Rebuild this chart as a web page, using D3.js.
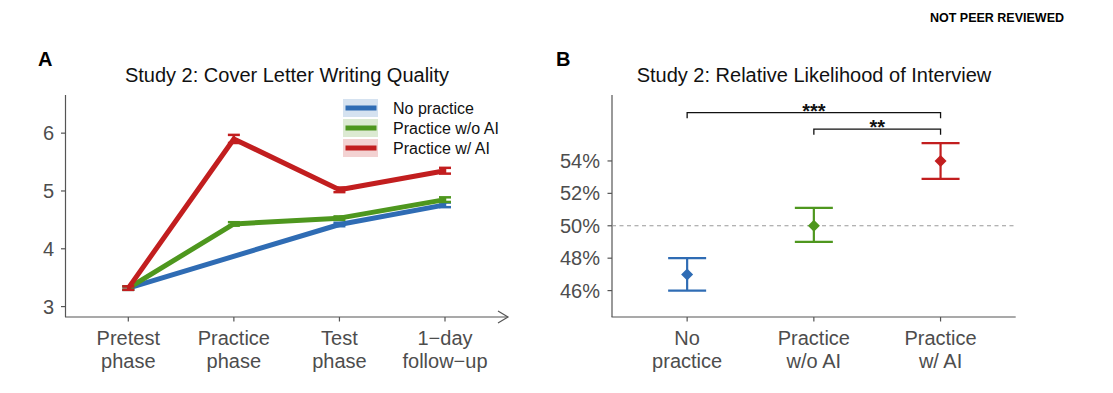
<!DOCTYPE html>
<html>
<head>
<meta charset="utf-8">
<script src="https://cdn.jsdelivr.net/npm/d3@7"></script>
<style>
  body { margin: 0; background: #fff; }
  text { font-family: Helvetica, "Liberation Sans", Arial, sans-serif; }
</style>
</head>
<body>
<svg id="chart" width="1113" height="393"></svg>
<script>
// panel A data
var phases = [["Pretest", "phase"], ["Practice", "phase"], ["Test", "phase"], ["1\u2212day", "follow\u2212up"]];
var groups = ["No practice", "Practice w/o AI", "Practice w/ AI"];
var colors = ["#2f6cb4", "#4e971e", "#c21e1f"];
var qualityMean = [
    [3.32, null, 4.42, 4.76],
    [3.32, 4.43, 4.53, 4.85],
    [3.32, 5.90, 5.02, 5.35]
];
var qualityErr = [
    [0.03, null, 0.03, 0.04],
    [0.03, 0.03, 0.03, 0.04],
    [0.03, 0.07, 0.04, 0.05]
];
var yTicksA = [3, 4, 5, 6];

// panel B data
var categoriesB = [["No", "practice"], ["Practice", "w/o AI"], ["Practice", "w/ AI"]];
var likelihood = [47.0, 50.0, 54.0];
var likeLow = [46.0, 49.0, 52.9];
var likeHigh = [48.0, 51.1, 55.1];
var yTicksB = [46, 48, 50, 52, 54];
var brackets = [{from: 0, to: 2, label: "***"}, {from: 1, to: 2, label: "**"}];

var svg = d3.select("#chart");
var axisCol = "#555", tickTextCol = "#4d4d4d";
var tickFont = "20px";

svg.append("text").attr("x", 1064).attr("y", 22).attr("text-anchor", "end")
    .style("font-size", "12.5px").style("font-weight", "bold").text("NOT PEER REVIEWED");

// ---------- panel A ----------
var xA = d3.scalePoint().domain(d3.range(4)).range([128.3, 445]);
var yA = d3.scaleLinear().domain([2.82, 6.66]).range([317, 95]);

svg.append("text").attr("x", 38).attr("y", 66).style("font-size", "20px").style("font-weight", "bold").text("A");
svg.append("text").attr("x", 287).attr("y", 82).attr("text-anchor", "middle")
    .style("font-size", "20px").attr("fill", "#111").text("Study 2: Cover Letter Writing Quality");

var gA = svg.append("g");
// axes
gA.append("line").attr("x1", 65.5).attr("x2", 65.5).attr("y1", 95).attr("y2", 317).attr("stroke", axisCol).attr("stroke-width", 1.2);
gA.append("line").attr("x1", 65).attr("x2", 508).attr("y1", 317).attr("y2", 317).attr("stroke", axisCol).attr("stroke-width", 1.2);
gA.append("path").attr("d", "M498,311 L508,317 L498,323").attr("fill", "none").attr("stroke", axisCol).attr("stroke-width", 1.2);

yTicksA.forEach(function(t){
    gA.append("line").attr("x1", 61).attr("x2", 65.5).attr("y1", yA(t)).attr("y2", yA(t)).attr("stroke", axisCol).attr("stroke-width", 1.2);
    gA.append("text").attr("x", 54).attr("y", yA(t) + 7).attr("text-anchor", "end")
        .style("font-size", tickFont).attr("fill", tickTextCol).text(t);
});
phases.forEach(function(p, i){
    gA.append("line").attr("x1", xA(i)).attr("x2", xA(i)).attr("y1", 317).attr("y2", 321.5).attr("stroke", axisCol).attr("stroke-width", 1.2);
    gA.append("text").attr("x", xA(i)).attr("y", 345).attr("text-anchor", "middle")
        .style("font-size", tickFont).attr("fill", tickTextCol).text(p[0]);
    gA.append("text").attr("x", xA(i)).attr("y", 368).attr("text-anchor", "middle")
        .style("font-size", tickFont).attr("fill", tickTextCol).text(p[1]);
});

var line = d3.line().x(function(d){ return xA(d.i); }).y(function(d){ return yA(d.v); });
groups.forEach(function(g, k){
    var pts = [];
    qualityMean[k].forEach(function(v, i){ if (v !== null) pts.push({i: i, v: v, e: qualityErr[k][i]}); });
    gA.append("path").datum(pts).attr("d", line).attr("fill", "none")
        .attr("stroke", colors[k]).attr("stroke-width", 5).attr("stroke-linejoin", "round");
    pts.forEach(function(d){
        gA.append("line").attr("x1", xA(d.i)).attr("x2", xA(d.i)).attr("y1", yA(d.v - d.e)).attr("y2", yA(d.v + d.e))
            .attr("stroke", colors[k]).attr("stroke-width", 2.5);
        [d.v - d.e, d.v + d.e].forEach(function(y){
            gA.append("line").attr("x1", xA(d.i) - 6).attr("x2", xA(d.i) + 6).attr("y1", yA(y)).attr("y2", yA(y))
                .attr("stroke", colors[k]).attr("stroke-width", 2.5);
        });
    });
});

// legend
groups.forEach(function(g, k){
    var cy = 108 + k * 20;
    gA.append("rect").attr("x", 343).attr("y", cy - 9).attr("width", 35).attr("height", 18)
        .attr("fill", colors[k]).attr("fill-opacity", 0.2);
    gA.append("line").attr("x1", 345.5).attr("x2", 376.5).attr("y1", cy).attr("y2", cy)
        .attr("stroke", colors[k]).attr("stroke-width", 5);
    gA.append("text").attr("x", 393).attr("y", cy + 6).style("font-size", "16px").attr("fill", "#111").text(g);
});

// ---------- panel B ----------
var xB = d3.scalePoint().domain(d3.range(3)).range([612, 1015.7]).padding(0.593);
var yB = d3.scaleLinear().domain([44.37, 58.07]).range([317, 95]);

svg.append("text").attr("x", 556).attr("y", 66).style("font-size", "20px").style("font-weight", "bold").text("B");
svg.append("text").attr("x", 814).attr("y", 82).attr("text-anchor", "middle")
    .style("font-size", "20px").attr("fill", "#111").text("Study 2: Relative Likelihood of Interview");

var gB = svg.append("g");
gB.append("line").attr("x1", 612).attr("x2", 612).attr("y1", 95).attr("y2", 317).attr("stroke", axisCol).attr("stroke-width", 1.2);
gB.append("line").attr("x1", 611.5).attr("x2", 1015.7).attr("y1", 317).attr("y2", 317).attr("stroke", axisCol).attr("stroke-width", 1.2);

yTicksB.forEach(function(t){
    gB.append("line").attr("x1", 607.5).attr("x2", 612).attr("y1", yB(t)).attr("y2", yB(t)).attr("stroke", axisCol).attr("stroke-width", 1.2);
    gB.append("text").attr("x", 600).attr("y", yB(t) + 7).attr("text-anchor", "end")
        .style("font-size", tickFont).attr("fill", tickTextCol).text(t + "%");
});
categoriesB.forEach(function(c, i){
    gB.append("line").attr("x1", xB(i)).attr("x2", xB(i)).attr("y1", 317).attr("y2", 321.5).attr("stroke", axisCol).attr("stroke-width", 1.2);
    gB.append("text").attr("x", xB(i)).attr("y", 345).attr("text-anchor", "middle")
        .style("font-size", tickFont).attr("fill", tickTextCol).text(c[0]);
    gB.append("text").attr("x", xB(i)).attr("y", 368).attr("text-anchor", "middle")
        .style("font-size", tickFont).attr("fill", tickTextCol).text(c[1]);
});

// reference line at 50%
gB.append("line").attr("x1", 612).attr("x2", 1015.7).attr("y1", yB(50)).attr("y2", yB(50))
    .attr("stroke", "#999").attr("stroke-width", 1.2).attr("stroke-dasharray", "4,3.5");

likelihood.forEach(function(v, i){
    var x = xB(i), c = colors[i];
    gB.append("line").attr("x1", x).attr("x2", x).attr("y1", yB(likeLow[i])).attr("y2", yB(likeHigh[i]))
        .attr("stroke", c).attr("stroke-width", 2.2);
    [likeLow[i], likeHigh[i]].forEach(function(y){
        gB.append("line").attr("x1", x - 19).attr("x2", x + 19).attr("y1", yB(y)).attr("y2", yB(y))
            .attr("stroke", c).attr("stroke-width", 2.2);
    });
    // square turned 45 degrees, like ggplot's diamond
    gB.append("path").attr("d", d3.symbol().type(d3.symbolSquare).size(72)())
        .attr("transform", "translate(" + x + "," + yB(v) + ") rotate(45)").attr("fill", c);
});

// significance brackets
brackets.forEach(function(b, j){
    var by = 112.7 + j * 16.5;
    var x1 = xB(b.from), x2 = xB(b.to);
    gB.append("path").attr("d", "M" + x1 + "," + (by + 5.5) + " V" + by + " H" + x2 + " V" + (by + 5.5))
        .attr("fill", "none").attr("stroke", "#111").attr("stroke-width", 1.3);
    gB.append("text").attr("x", (x1 + x2) / 2).attr("y", by + 5).attr("text-anchor", "middle")
        .style("font-size", "20px").style("font-weight", "bold").attr("fill", "#111").text(b.label);
});
</script>
</body>
</html>
